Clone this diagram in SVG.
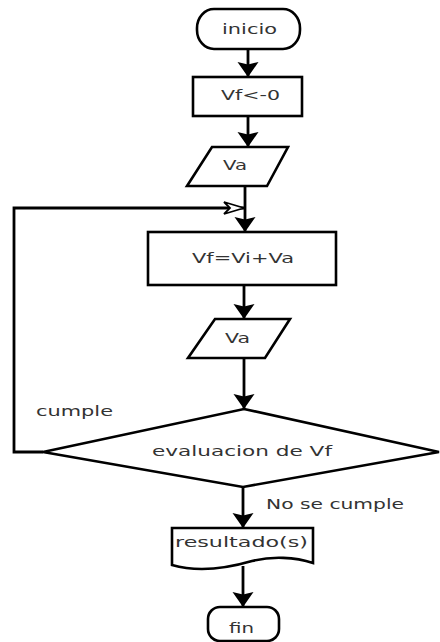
<svg xmlns="http://www.w3.org/2000/svg" width="440" height="642" viewBox="0 0 440 642">
  <defs>
    <style>
      .shape { fill: #ffffff; stroke: #000000; stroke-width: 2.6; stroke-linejoin: miter; }
      .wire { fill: none; stroke: #000000; stroke-width: 2.8; }
      .lbl { font-family: "DejaVu Sans", "Liberation Sans", sans-serif; font-size: 13.5px; fill: #333333; }
    </style>
    <!-- filled arrowhead with a shallow notch for the flow lines -->
    <marker id="arrow" markerUnits="userSpaceOnUse" viewBox="-1 -12 18 24" refX="15" refY="0" markerWidth="18" markerHeight="24" orient="auto">
      <path d="M0,-10.5 L15,0 L0,10.5 L2.5,0 Z" fill="#000000"/>
    </marker>
    <!-- lighter outlined arrowhead for the loop-back line -->
    <marker id="arrowOpen" markerUnits="userSpaceOnUse" viewBox="-2 -8 24 16" refX="20" refY="0" markerWidth="24" markerHeight="16" orient="auto">
      <path d="M0,-6 L20,0 L0,6 L6,0 Z" fill="#ffffff" stroke="#000000" stroke-width="1.8" stroke-linejoin="miter"/>
    </marker>
  </defs>

  <rect width="440" height="642" fill="#ffffff"/>

  <!-- flow lines -->
  <g id="connectors">
    <path class="wire" d="M248,49 V77" marker-end="url(#arrow)"/>
    <path class="wire" d="M248,116 V147" marker-end="url(#arrow)"/>
    <path class="wire" d="M245,186 V232" marker-end="url(#arrow)"/>
    <path class="wire" d="M43,452 H14 V208 H244" marker-end="url(#arrowOpen)"/>
    <path class="wire" d="M244,285 V319" marker-end="url(#arrow)"/>
    <path class="wire" d="M244,358 V409" marker-end="url(#arrow)"/>
    <path class="wire" d="M243,487 V528" marker-end="url(#arrow)"/>
    <path class="wire" d="M243,566 V607" marker-end="url(#arrow)"/>
    <text class="lbl" x="36" y="416" textLength="77" lengthAdjust="spacingAndGlyphs">cumple</text>
    <text class="lbl" x="266" y="509" textLength="138" lengthAdjust="spacingAndGlyphs">No se cumple</text>
  </g>

  <g id="inicio">
    <rect class="shape" x="197" y="9" width="103" height="40" rx="17" ry="19"/>
    <text class="lbl" x="222" y="34" textLength="55" lengthAdjust="spacingAndGlyphs">inicio</text>
  </g>

  <g id="init-vf">
    <rect class="shape" x="193" y="77" width="109" height="39"/>
    <text class="lbl" x="221" y="100" textLength="59" lengthAdjust="spacingAndGlyphs">Vf&lt;-0</text>
  </g>

  <g id="read-va">
    <polygon class="shape" points="212,147 288,147 267,186 187,186"/>
    <text class="lbl" x="223" y="170" textLength="24" lengthAdjust="spacingAndGlyphs">Va</text>
  </g>

  <g id="sum">
    <rect class="shape" x="148" y="232" width="188" height="53"/>
    <text class="lbl" x="192" y="263" textLength="102" lengthAdjust="spacingAndGlyphs">Vf=Vi+Va</text>
  </g>

  <g id="read-va-2">
    <polygon class="shape" points="215,319 290,319 265,358 188,358"/>
    <text class="lbl" x="225" y="343" textLength="25" lengthAdjust="spacingAndGlyphs">Va</text>
  </g>

  <g id="check">
    <polygon class="shape" points="244,409 439,452 243,487 43,452"/>
    <text class="lbl" x="152" y="456" textLength="180" lengthAdjust="spacingAndGlyphs">evaluacion de Vf</text>
  </g>

  <g id="result">
    <path class="shape" d="M172,528 H313 V563 C295,557 272,556 252,561 C228,568 200,573 172,565 Z"/>
    <text class="lbl" x="175" y="547" textLength="133" lengthAdjust="spacingAndGlyphs">resultado(s)</text>
  </g>

  <g id="fin">
    <rect class="shape" x="208" y="607" width="71" height="34" rx="12" ry="12"/>
    <text class="lbl" x="229" y="633" textLength="25" lengthAdjust="spacingAndGlyphs">fin</text>
  </g>
</svg>
